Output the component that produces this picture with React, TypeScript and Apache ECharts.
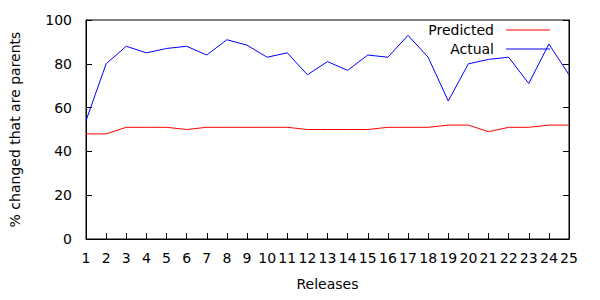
import React, { useEffect, useRef } from "react";
import * as echarts from "echarts";

const releases = ["1","2","3","4","5","6","7","8","9","10","11","12","13","14","15","16","17","18","19","20","21","22","23","24","25"];
const predicted = [48, 48, 51, 51, 51, 50, 51, 51, 51, 51, 51, 50, 50, 50, 50, 51, 51, 51, 52, 52, 49, 51, 51, 52, 52];
const actual = [54, 80, 88, 85, 87, 88, 84, 91, 88.5, 83, 85, 75, 81, 77, 84, 83, 93, 83, 63, 80, 82, 83, 71, 89, 75];
const yTicks = [0, 20, 40, 60, 80, 100];

const FONT = "DejaVu Sans";

export default function App() {
  const ref = useRef<HTMLDivElement>(null);
  useEffect(() => {
    if (!ref.current) return;
    const chart = echarts.init(ref.current, undefined, { renderer: "svg" });
    chart.setOption({
      animation: false,
      backgroundColor: "#ffffff",
      grid: { left: 84, right: 31, top: 20, bottom: 61, show: true, borderColor: "#000", borderWidth: 1 },
      legend: {
        orient: "vertical",
        right: 50,
        top: 23,
        padding: 0,
        align: "right",
        icon: "rect",
        itemWidth: 44,
        itemHeight: 1,
        itemGap: 5,
        textStyle: { fontFamily: FONT, fontSize: 14, color: "#000", padding: [0, 7, 0, 0] },
        data: ["Predicted", "Actual"],
      },
      xAxis: {
        type: "category",
        data: releases,
        boundaryGap: false,
        name: "Releases",
        nameLocation: "middle",
        nameGap: 38,
        nameTextStyle: { fontFamily: FONT, fontSize: 14, color: "#000" },
        axisLine: { lineStyle: { color: "#000", width: 1 } },
        axisTick: { inside: true, length: 6, lineStyle: { color: "#000" }, interval: 0 },
        axisLabel: { fontFamily: FONT, fontSize: 14, color: "#000", margin: 12, interval: 0 },
        splitLine: { show: false },
      },
      yAxis: [
        {
          type: "value",
          min: 0,
          max: 100,
          interval: 20,
          name: "% changed that are parents",
          nameLocation: "middle",
          nameGap: 64,
          nameTextStyle: { fontFamily: FONT, fontSize: 14, color: "#000" },
          axisLine: { show: true, lineStyle: { color: "#000", width: 1 } },
          axisTick: { show: true, inside: true, length: 6, lineStyle: { color: "#000" } },
          axisLabel: { fontFamily: FONT, fontSize: 14, color: "#000", margin: 14, formatter: (v: number) => (yTicks.includes(v) ? String(v) : "") },
          splitLine: { show: false },
        },
        {
          type: "value",
          min: 0,
          max: 100,
          interval: 20,
          position: "right",
          axisLine: { show: true, lineStyle: { color: "#000", width: 1 } },
          axisTick: { show: true, inside: true, length: 6, lineStyle: { color: "#000" } },
          axisLabel: { show: false },
          splitLine: { show: false },
        },
      ],
      series: [
        {
          name: "Predicted",
          type: "line",
          data: predicted,
          symbol: "none",
          lineStyle: { color: "#ff0000", width: 1 },
          itemStyle: { color: "#ff0000" },
        },
        {
          name: "Actual",
          type: "line",
          data: actual,
          symbol: "none",
          lineStyle: { color: "#0000ff", width: 1 },
          itemStyle: { color: "#0000ff" },
        },
      ],
    });
    return () => chart.dispose();
  }, []);
  return <div ref={ref} style={{ position: "fixed", left: 0, top: 0, width: 600, height: 300 }} />;
}
